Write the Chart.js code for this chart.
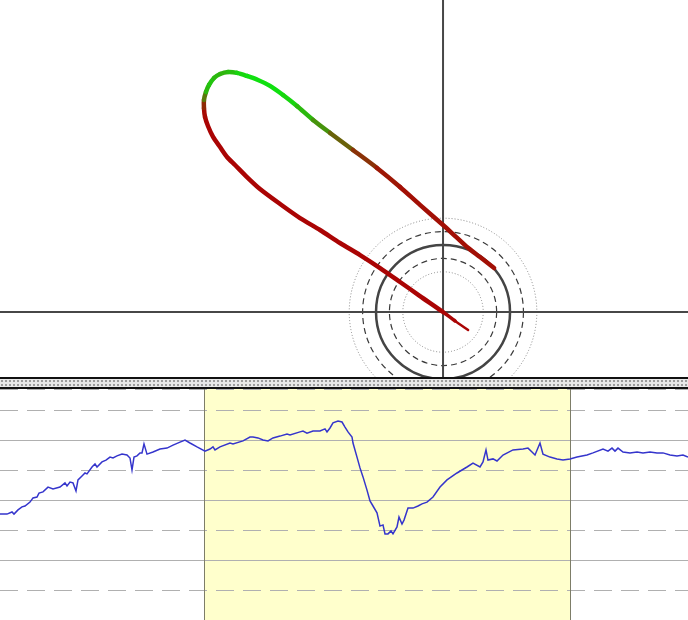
<!DOCTYPE html>
<html>
<head>
<meta charset="utf-8">
<script src="https://cdn.jsdelivr.net/npm/chart.js@4.4.1/dist/chart.umd.min.js"></script>
<style>
  body { margin: 0; background: #fff; }
  #wrap { position: relative; width: 688px; height: 620px; overflow: hidden; background: #fff; }
  #top { position: absolute; left: 0; top: 0; }
  #bottom { position: absolute; left: 0; top: 389px; }
  .rule { position: absolute; left: 0; width: 688px; height: 2px; background: #111; }
  #strip {
    position: absolute; left: 0; top: 379px; width: 688px; height: 8px;
    background-color: #e8e8e8;
    background-image: radial-gradient(circle, #9c9c9c 0.9px, transparent 1.2px);
    background-size: 4px 4px;
  }
</style>
</head>
<body>
<div id="wrap">
  <canvas id="top" width="688" height="377"></canvas>
  <div class="rule" style="top:377px"></div>
  <div id="strip"></div>
  <div class="rule" style="top:387px"></div>
  <canvas id="bottom" width="688" height="231"></canvas>
</div>
<script>
// top view: track position (units) and colour level 0 = red .. 1 = green
const trackX = [1.87, 0.90, 0, -1.72, -3.21, -4.70, -6.19, -7.69, -9.18, -10.67, -12.16, -13.66, -14.63,
  -15.52, -16.12, -16.64, -17.16, -17.54, -17.76, -17.84, -17.84, -17.69, -17.46, -17.09, -16.64, -16.04,
  -15.37, -14.63, -13.81, -12.91, -11.94, -10.90, -9.70, -8.43, -6.72, -4.93, -3.21, -1.72, 0, 0.97, 1.79,
  2.76, 3.81];
const trackY = [-1.34, -0.67, 0, 1.19, 2.24, 3.28, 4.25, 5.15, 6.12, 7.01, 8.06, 9.18, 10.07, 10.97, 11.57,
  12.31, 13.06, 13.88, 14.55, 15.22, 15.82, 16.42, 16.94, 17.46, 17.76, 17.91, 17.84, 17.61, 17.31, 16.87,
  16.19, 15.37, 14.33, 13.36, 12.09, 10.75, 9.33, 7.99, 6.49, 5.60, 4.85, 4.10, 3.28];
const trackLevel = [0, 0, 0, 0, 0, 0, 0, 0, 0, 0, 0, 0, 0, 0, 0, 0, 0, 0, 0, 0.05, 0.3, 0.75, 0.9, 0.85,
  0.8, 0.8, 0.9, 1, 1, 1, 1, 0.9, 0.75, 0.55, 0.3, 0.12, 0.05, 0.05, 0.05, 0.05, 0.05, 0.05, 0.05];
const ringRadii = [3, 4, 5, 6, 7];
const ringKinds = ["dotted", "dashed", "solid", "dashed", "dotted"];

// bottom strip: time series and highlighted range
const seriesTime = [0, 3.5, 6, 7, 9, 11, 12.5, 15, 16.5, 18.5, 19.5, 21.5, 24, 26.5, 30, 32.5, 33.5, 35, 36.5,
  38, 39, 41, 42.5, 43.5, 46, 47.5, 48.5, 51, 53, 55, 56.5, 58.5, 61, 63.5, 65, 66, 67, 68.5, 70, 71, 72,
  73.5, 76.5, 80, 83.5, 86.5, 90, 92.5, 95, 98.5, 102.5, 105, 106.5, 107.5, 110, 115, 116.5, 121.5, 125,
  126.5, 129, 131.5, 134, 136.5, 140, 143.5, 145, 150, 151.5, 153.5, 156.5, 160, 162.5, 163.5, 165, 166.5,
  169, 171, 172.5, 174, 176, 176.5, 178.5, 180, 181.5, 183.5, 185, 186.5, 188.5, 190, 191.5, 192.5, 194,
  195.5, 196.5, 198.5, 199.5, 201, 202, 204, 206.5, 209, 211, 213.5, 216.5, 220, 223.5, 228.5, 233.5,
  236.5, 240, 241.5, 243, 244, 246.5, 248.5, 251.5, 256.5, 261.5, 264, 266, 267.5, 270, 271.5, 275, 278.5,
  281.5, 285, 288.5, 293.5, 296.5, 301.5, 304, 306, 307.5, 309, 311.5, 315, 318.5, 321.5, 325, 328.5,
  331.5, 335, 338.5, 341.5, 344];
const seriesValue = [35.3, 35.3, 36.0, 35.3, 36.7, 37.7, 38.0, 39.3, 40.7, 41.0, 42.3, 42.7, 44.3, 43.7,
  44.3, 45.7, 44.7, 46.0, 45.7, 43.0, 46.7, 48.0, 49.0, 48.7, 51.0, 52.0, 51.0, 52.7, 53.3, 54.3, 54.0, 54.7,
  55.3, 55.0, 54.0, 50.0, 54.3, 54.7, 55.7, 55.7, 58.7, 55.3, 56.0, 57.0, 57.3, 58.3, 59.3, 60.0, 59.0,
  57.7, 56.3, 57.0, 57.7, 56.7, 57.7, 59.0, 58.7, 59.7, 61.0, 61.0, 60.7, 60.0, 59.7, 60.7, 61.3, 62.0,
  61.7, 62.7, 63.0, 62.3, 63.0, 63.0, 63.7, 62.7, 64.0, 65.7, 66.3, 66.0, 64.3, 62.7, 61.0, 59.0, 54.3,
  50.7, 47.7, 43.3, 39.7, 38.0, 35.7, 31.3, 31.7, 28.7, 28.7, 29.7, 28.7, 31.0, 34.3, 32.0, 33.3, 37.3,
  37.3, 38.0, 38.7, 39.3, 41.0, 44.3, 46.7, 49.0, 51.0, 52.3, 51.0, 52.7, 56.7, 53.3, 53.7, 53.0, 55.0,
  56.7, 57.0, 57.3, 56.0, 55.0, 59.0, 55.3, 54.3, 53.7, 53.3, 53.7, 54.3, 55.0, 55.7, 57.0, 56.3, 57.3,
  56.3, 57.3, 56.0, 55.7, 56.0, 55.7, 56.0, 55.7, 55.7, 55.0, 54.7, 55.0, 54.3];
const bandRange = [102, 285];
const valueStep = 10;

function levelColor(l) {
  const r = Math.round(170 * (1 - l) + 16 * l);
  const g = Math.round(4 * (1 - l) + 224 * l);
  const b = Math.round(4 * (1 - l) + 16 * l);
  return `rgb(${r},${g},${b})`;
}

const ringStyles = {
  dotted: { color: "#858585", width: 1, dash: [1, 2] },
  dashed: { color: "#3a3a3a", width: 1.2, dash: [6, 4] },
  solid: { color: "#444", width: 2.5, dash: [] },
};

const topDecor = {
  id: "topDecor",
  beforeDatasetsDraw(chart) {
    const { ctx, chartArea: a, scales: { x, y } } = chart;
    const cx = x.getPixelForValue(0);
    const cy = y.getPixelForValue(0);
    const unit = x.getPixelForValue(1) - cx;
    ctx.save();
    ringRadii.forEach((r, i) => {
      const st = ringStyles[ringKinds[i]];
      ctx.strokeStyle = st.color;
      ctx.lineWidth = st.width;
      ctx.setLineDash(st.dash);
      ctx.beginPath();
      ctx.arc(cx, cy, r * unit, 0, Math.PI * 2);
      ctx.stroke();
    });
    ctx.setLineDash([]);
    ctx.strokeStyle = "#474747";
    ctx.lineWidth = 2;
    ctx.beginPath();
    ctx.moveTo(a.left, cy);
    ctx.lineTo(a.right, cy);
    ctx.moveTo(cx, a.top);
    ctx.lineTo(cx, a.bottom);
    ctx.stroke();
    ctx.restore();
  },
};

new Chart(document.getElementById("top").getContext("2d"), {
  type: "scatter",
  data: {
    datasets: [
      {
        data: trackX.map((v, i) => ({ x: v, y: trackY[i] })),
        showLine: true,
        pointRadius: 0,
        borderWidth: 4.5,
        borderCapStyle: "round",
        borderJoinStyle: "round",
        tension: 0.25,
        borderColor: levelColor(0),
        segment: {
          borderColor: (c) => levelColor((trackLevel[c.p0DataIndex] + trackLevel[c.p1DataIndex]) / 2),
          borderWidth: (c) => (c.p0DataIndex === 0 ? 2.5 : c.p0DataIndex === 1 ? 3.5 : 4.5),
        },
      },
    ],
  },
  options: {
    responsive: false,
    animation: false,
    layout: { autoPadding: false, padding: 0 },
    plugins: { legend: { display: false }, tooltip: { enabled: false } },
    scales: {
      x: { type: "linear", display: false, min: -33.06, max: 18.28 },
      y: { type: "linear", display: false, min: -4.85, max: 23.28 },
    },
  },
  plugins: [topDecor],
});

const bottomDecor = {
  id: "bottomDecor",
  beforeDatasetsDraw(chart) {
    const { ctx, chartArea: a, scales: { x, y } } = chart;
    const x0 = x.getPixelForValue(bandRange[0]);
    const x1 = x.getPixelForValue(bandRange[1]);
    ctx.save();
    ctx.fillStyle = "#ffffcc";
    ctx.fillRect(x0, a.top, x1 - x0, a.bottom - a.top);
    ctx.strokeStyle = "#b0b0b0";
    ctx.lineWidth = 1;
    y.ticks.forEach((t) => {
      const py = Math.round(y.getPixelForValue(t.value)) + 0.5;
      ctx.setLineDash((t.value / valueStep) % 2 ? [18, 9] : []);
      ctx.beginPath();
      ctx.moveTo(a.left, py);
      ctx.lineTo(a.right, py);
      ctx.stroke();
    });
    ctx.setLineDash([]);
    ctx.strokeStyle = "#7d7d68";
    ctx.beginPath();
    [x0, x1].forEach((px) => {
      ctx.moveTo(Math.round(px) + 0.5, a.top);
      ctx.lineTo(Math.round(px) + 0.5, a.bottom);
    });
    ctx.stroke();
    ctx.restore();
  },
};

new Chart(document.getElementById("bottom").getContext("2d"), {
  type: "scatter",
  data: {
    datasets: [
      {
        data: seriesTime.map((t, i) => ({ x: t, y: seriesValue[i] })),
        showLine: true,
        pointRadius: 0,
        borderColor: "#3535cc",
        borderWidth: 1.5,
        tension: 0,
      },
    ],
  },
  options: {
    responsive: false,
    animation: false,
    layout: { autoPadding: false, padding: 0 },
    plugins: { legend: { display: false }, tooltip: { enabled: false } },
    scales: {
      x: { type: "linear", display: false, min: 0, max: 344 },
      y: { type: "linear", display: false, min: 0, max: 77, ticks: { stepSize: valueStep } },
    },
  },
  plugins: [bottomDecor],
});
</script>
</body>
</html>
